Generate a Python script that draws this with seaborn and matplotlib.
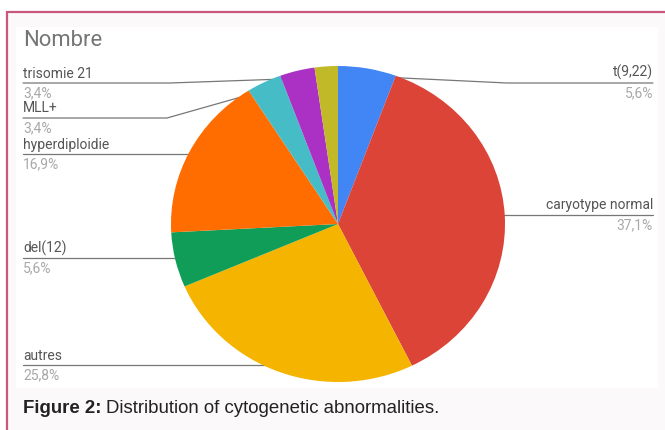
import numpy as np
import matplotlib
matplotlib.use("Agg")
import matplotlib.pyplot as plt
import seaborn as sns
from matplotlib.patches import Rectangle

# data (counts out of 89 patients, read from percentages)
categories = ["t(9,22)", "caryotype normal", "autres", "del(12)",
              "hyperdiploidie", "MLL+", "trisomie 21", "autre"]
counts = [5, 33, 23, 5, 15, 3, 3, 2]
pct_labels = ["5,6%", "37,1%", "25,8%", "5,6%", "16,9%", "3,4%", "3,4%", ""]
colors = ["#4285f4", "#db4437", "#f4b400", "#0f9d58",
          "#ff6d00", "#46bdc6", "#ab30c4", "#c2b928"]

# label layout (pixels): side, line y, elbow x
layout = {
    "t(9,22)": ("right", 83, 507),
    "caryotype normal": ("right", 215, None),
    "autres": ("left", 365, None),
    "del(12)": ("left", 258, None),
    "hyperdiploidie": ("left", 154, None),
    "MLL+": ("left", 118, 167),
    "trisomie 21": ("left", 83, 170),
}

sns.set_theme(style="white")
plt.rcParams["font.family"] = ["Roboto", "DejaVu Sans"]

W, H = 665, 430
fig = plt.figure(figsize=(W / 100, H / 100), dpi=100)
fig.patch.set_facecolor("white")

# overlay in pixel coordinates
lab = fig.add_axes([0, 0, 1, 1])
lab.set_xlim(0, W)
lab.set_ylim(H, 0)
lab.axis("off")
lab.add_patch(Rectangle((7, 12), W, H, facecolor="#fbf9fa",
                        edgecolor="#c9567b", linewidth=1.6))
lab.add_patch(Rectangle((16, 27), 642, 361, facecolor="white", edgecolor="none"))

# pie axes (pie spans x 171-505, y 66-382 px)
x0, x1, y0, y1 = 171, 505, 66, 382
pie_ax = fig.add_axes([x0 / W, (H - y1) / H, (x1 - x0) / W, (y1 - y0) / H])
wedges, _ = pie_ax.pie(counts, colors=colors, startangle=90, counterclock=False,
                       wedgeprops=dict(linewidth=0))
pie_ax.set_aspect("auto")
pie_ax.set_xlim(-1, 1)
pie_ax.set_ylim(-1, 1)
pie_ax.axis("off")

fig.canvas.draw()
to_px = pie_ax.transData + lab.transData.inverted()

total = sum(counts)
cum = np.cumsum([0] + counts)
for i, name in enumerate(categories):
    if name not in layout:
        continue
    side, ly, ex = layout[name]
    mid = (cum[i] + counts[i] / 2) / total * 2 * np.pi
    dx, dy = to_px.transform((0.95 * np.sin(mid), 0.95 * np.cos(mid)))
    if side == "left":
        xs = [23] + ([ex] if ex else []) + [dx]
        tx, ha = 23, "left"
    else:
        xs = [653] + ([ex] if ex else []) + [dx]
        tx, ha = 653, "right"
    ys = [ly] + ([ly] if ex else []) + [dy if ex else ly]
    lab.plot(xs, ys, color="#777777", lw=0.9, zorder=5)
    lab.plot([dx], [dy if ex else ly], "o", ms=2.6, color="#9a9a9a",
             mec="none", zorder=6)
    lab.text(tx, ly - 2.5, name, ha=ha, va="bottom", fontsize=10, color="#555555")
    lab.text(tx, ly + 3, pct_labels[i], ha=ha, va="top", fontsize=10,
             color="#a8a8a8")

lab.text(23, 41, "Nombre", fontsize=15.8, color="#757575", va="center", ha="left")

bold = lab.text(23, 413, "Figure 2:", fontsize=13.4, fontweight="bold",
                color="#222222", va="baseline", ha="left", family="Liberation Sans")
fig.canvas.draw()
bb = bold.get_window_extent().transformed(lab.transData.inverted())
lab.text(bb.x1 + 4, 413, "Distribution of cytogenetic abnormalities.", fontsize=13.4,
         color="#222222", va="baseline", ha="left", family="Liberation Sans")

fig.savefig("out.png", dpi=100)
